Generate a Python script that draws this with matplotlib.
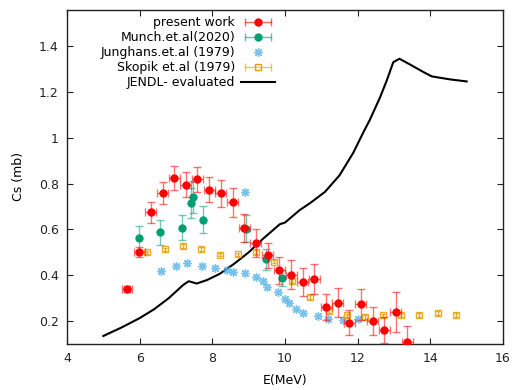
import matplotlib
matplotlib.use("Agg")
import matplotlib.pyplot as plt
from matplotlib.lines import Line2D
from matplotlib.legend_handler import HandlerLine2D
from matplotlib.ticker import FuncFormatter

# ---- data ----
pw_x = [5.65, 5.99, 6.31, 6.63, 6.95, 7.27, 7.59, 7.91, 8.23, 8.56, 8.88, 9.20, 9.52,
        9.84, 10.17, 10.49, 10.81, 11.13, 11.45, 11.77, 12.09, 12.41, 12.73, 13.05, 13.37]
pw_y = [0.34, 0.502, 0.674, 0.759, 0.825, 0.796, 0.818, 0.774, 0.757, 0.719, 0.607, 0.541, 0.487,
        0.422, 0.402, 0.370, 0.383, 0.260, 0.280, 0.193, 0.273, 0.200, 0.161, 0.241, 0.110]
pw_yerr = [0.015, 0.023, 0.044, 0.046, 0.051, 0.054, 0.056, 0.054, 0.057, 0.063, 0.06, 0.061, 0.054,
           0.058, 0.063, 0.062, 0.065, 0.057, 0.063, 0.055, 0.069, 0.06, 0.058, 0.087, 0.07]
pw_xerr = [0.15] * len(pw_x)

mu_x = [5.99, 6.57, 7.16, 7.40, 7.46, 7.75, 8.93, 9.49, 9.91]
mu_y = [0.563, 0.587, 0.608, 0.716, 0.742, 0.643, 0.604, 0.470, 0.387]
mu_yerr = [0.052, 0.054, 0.056, 0.066, 0.07, 0.06, 0.057, 0.045, 0.035]

ju_x = [6.58, 7.00, 7.29, 7.71, 8.08, 8.40, 8.58, 8.89, 8.89, 9.20, 9.39, 9.50, 9.80,
        9.99, 10.12, 10.30, 10.50, 10.90, 11.18, 11.60, 12.00]
ju_y = [0.420, 0.441, 0.452, 0.441, 0.431, 0.425, 0.415, 0.408, 0.764, 0.391, 0.376, 0.350, 0.326,
        0.298, 0.277, 0.253, 0.236, 0.222, 0.209, 0.203, 0.211]

sk_x = [6.2, 6.7, 7.2, 7.7, 8.2, 8.7, 9.2, 9.7, 10.2, 10.7, 11.2, 11.7, 12.2, 12.7,
        13.2, 13.7, 14.2, 14.7]
sk_y = [0.500, 0.513, 0.527, 0.516, 0.490, 0.491, 0.501, 0.460, 0.376, 0.305, 0.245, 0.225,
        0.217, 0.225, 0.228, 0.226, 0.234, 0.226]
sk_yerr = [0.008] * len(sk_x)

je_x = [5.0, 5.5, 6.0, 6.4, 6.8, 7.2, 7.35, 7.57, 7.85, 8.2, 8.6, 9.0, 9.4, 9.75, 9.86, 10.0,
        10.4, 10.7, 11.1, 11.5, 11.88, 12.16, 12.34, 12.62, 12.8, 12.98, 13.15, 13.44, 13.81,
        14.04, 14.54, 15.0]
je_y = [0.135, 0.172, 0.213, 0.252, 0.300, 0.358, 0.374, 0.364, 0.379, 0.406, 0.450, 0.500,
        0.560, 0.608, 0.623, 0.630, 0.684, 0.716, 0.764, 0.836, 0.935, 1.025, 1.080, 1.178,
        1.250, 1.330, 1.345, 1.320, 1.287, 1.268, 1.255, 1.246]

labels = ["present work", "Munch.et.al(2020)", "Junghans.et.al (1979)",
          "Skopik et.al (1979)", "JENDL- evaluated"]

# ---- styling ----
plt.rcParams['font.family'] = ['DejaVu Sans']
FS = 9
RED = "#ff0000"
GREEN = "#009e73"
BLUE = "#56b4e9"
ORANGE = "#e69f00"

fig = plt.figure(figsize=(5.13, 3.90), dpi=100)
ax = fig.add_axes([67/513, 1 - 344/390, (503 - 67)/513, (344 - 9.5)/390])

ax.plot(je_x, je_y, color="black", lw=1.5, zorder=2)

ax.errorbar(sk_x, sk_y, yerr=sk_yerr, fmt='s', ms=4.5, mfc='none', mec=ORANGE, mew=1.0,
            ecolor=ORANGE, elinewidth=1.0, capsize=1.5, alpha=0.85, zorder=3)
ax.plot(ju_x, ju_y, ls='none', marker=(8, 2, 0), ms=6, color=BLUE, mew=1.0, alpha=0.8, zorder=3)

ax.errorbar(mu_x, mu_y, yerr=mu_yerr, fmt='none', ecolor=GREEN, elinewidth=1.0,
            capsize=3, alpha=0.55, zorder=4)
ax.plot(mu_x, mu_y, 'o', color=GREEN, ms=5, zorder=5)

ax.errorbar(pw_x, pw_y, xerr=pw_xerr, yerr=pw_yerr, fmt='none', ecolor=RED, elinewidth=1.0,
            capsize=3, alpha=0.55, zorder=6)
ax.plot(pw_x, pw_y, 'o', color=RED, ms=5, zorder=7)

ax.set_xlim(4, 16)
ax.set_ylim(0.1, 1.56)
ax.set_xticks([4, 6, 8, 10, 12, 14, 16])
ax.set_yticks([0.2, 0.4, 0.6, 0.8, 1.0, 1.2, 1.4])
ax.yaxis.set_major_formatter(FuncFormatter(lambda v, p: "%g" % round(v, 2)))
ax.tick_params(direction='in', length=4.5, width=0.8, top=True, right=True,
               labelsize=FS, colors='#222222', pad=6)
for s in ax.spines.values():
    s.set_linewidth(1.0)
    s.set_color('#222222')

ax.set_xlabel("E(MeV)", fontsize=FS, labelpad=6)
ax.set_ylabel("Cs (mb)", fontsize=FS, labelpad=10)

# ---- legend (gnuplot style: text right-aligned, sample to the right) ----
def eb_handle(color, marker, mfc):
    caps = Line2D([], [], color=color, lw=1.0, marker='|', ms=6, mew=1.0, alpha=0.6)
    mid = Line2D([], [], ls='none', color=color, marker=marker, ms=5 if marker == 'o' else 4.5,
                 mfc=mfc, mec=color, mew=1.0)
    return caps, mid

c1, m1 = eb_handle(RED, 'o', RED)
c2, m2 = eb_handle(GREEN, 'o', GREEN)
c4, m4 = eb_handle(ORANGE, 's', 'none')
h3 = Line2D([], [], ls='none', marker=(8, 2, 0), ms=6, color=BLUE, mew=1.0, alpha=0.8)
h5 = Line2D([], [], color='black', lw=1.5)
hmap = {c: HandlerLine2D(numpoints=2) for c in (c1, c2, c4)}
leg = ax.legend([(c1, m1), (c2, m2), h3, (c4, m4), h5], labels,
                loc='upper right', bbox_to_anchor=(275/513, 1 - 16/390),
                bbox_transform=fig.transFigure, frameon=False, markerfirst=False,
                fontsize=FS, handlelength=2.7, handletextpad=0.5, labelspacing=0.16,
                borderpad=0, borderaxespad=0, handler_map=hmap, numpoints=1)

fig.savefig("out.png", dpi=100)
